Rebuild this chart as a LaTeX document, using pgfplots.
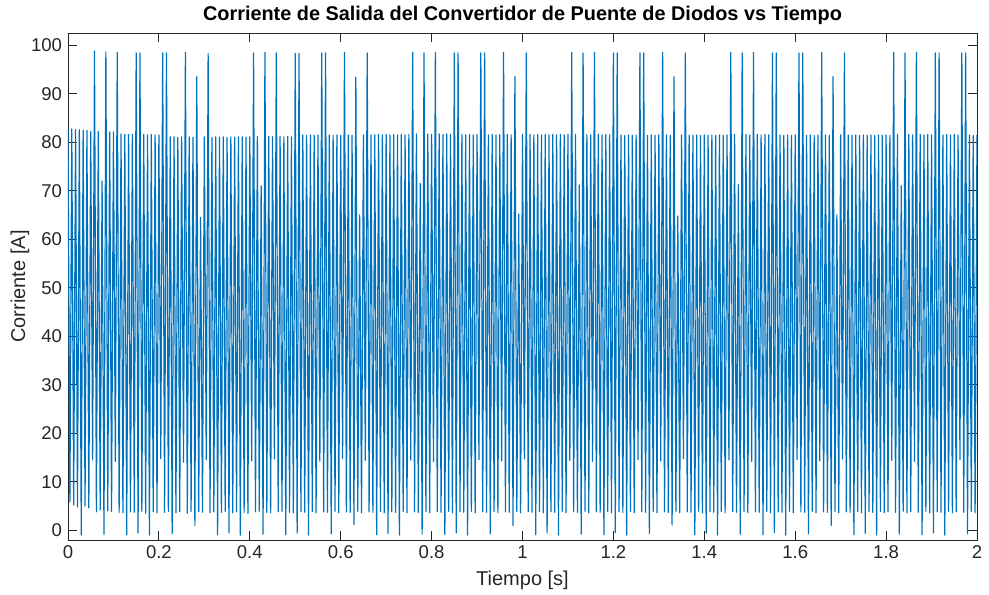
\documentclass[border=0pt]{standalone}
\usepackage{fontspec}
\setmainfont{Liberation Sans}
\usepackage{pgfplots}
\usepackage{pgfplotstable}
\pgfplotsset{compat=1.18}
\definecolor{mblue}{RGB}{0,114,189}
\definecolor{mgray}{RGB}{38,38,38}

% one sample per half cycle (120 Hz ripple): peak, valley, peak, valley, ...
% x = index/240 s
\pgfplotstableread[header=false,row sep=\\]{
82.8\\ 5.8\\ 82.7\\ 5.2\\ 82.6\\ 4.8\\ 82.6\\ -1.0\\ 82.5\\ 5.0\\ 82.4\\ 4.6\\
82.2\\ 14.5\\ 98.8\\ 3.8\\ 82.2\\ 4.2\\ 72.0\\ -0.8\\ 98.6\\ 4.0\\ 82.1\\ 3.9\\
82.1\\ 14.2\\ 98.5\\ 3.7\\ 81.7\\ 3.6\\ 81.6\\ -0.9\\ 81.6\\ 3.8\\ 81.6\\ 3.7\\
98.4\\ -0.6\\ 98.4\\ 3.9\\ 81.6\\ 3.5\\ 81.5\\ -1.0\\ 81.6\\ 3.8\\ 81.5\\ 3.6\\
81.5\\ 14.8\\ 98.4\\ 3.7\\ 98.4\\ 3.9\\ 81.1\\ -0.7\\ 81.1\\ 3.6\\ 81.0\\ 3.8\\
81.1\\ 14.0\\ 98.5\\ 3.5\\ 81.1\\ 3.9\\ 81.0\\ 1.0\\ 93.5\\ 3.8\\ 64.5\\ 3.7\\
81.1\\ 14.6\\ 98.3\\ 3.6\\ 81.0\\ 3.8\\ 81.1\\ -0.9\\ 81.0\\ 3.7\\ 81.1\\ 3.9\\
81.0\\ -0.5\\ 81.1\\ 3.6\\ 81.0\\ 3.8\\ 81.1\\ -1.0\\ 81.1\\ 3.7\\ 81.0\\ 3.5\\
81.1\\ 14.3\\ 98.4\\ 3.8\\ 81.2\\ 3.9\\ 71.0\\ -0.8\\ 98.5\\ 3.7\\ 81.2\\ 3.6\\
81.1\\ 14.7\\ 98.4\\ 3.8\\ 81.2\\ 3.9\\ 81.1\\ -0.9\\ 81.2\\ 3.7\\ 81.1\\ 3.6\\
98.3\\ -0.6\\ 98.3\\ 3.8\\ 81.5\\ 3.7\\ 81.4\\ -1.0\\ 81.5\\ 3.9\\ 81.4\\ 3.6\\
81.5\\ 14.2\\ 98.4\\ 3.8\\ 98.4\\ 3.7\\ 81.5\\ -0.7\\ 81.4\\ 3.9\\ 81.5\\ 3.6\\
81.4\\ 14.8\\ 98.5\\ 3.8\\ 81.5\\ 3.7\\ 81.4\\ 1.2\\ 93.4\\ 3.9\\ 65.0\\ 3.6\\
81.5\\ 14.4\\ 98.4\\ 3.8\\ 81.5\\ 3.7\\ 81.5\\ -0.9\\ 81.6\\ 3.9\\ 81.5\\ 3.6\\
81.6\\ -0.6\\ 81.5\\ 3.8\\ 81.6\\ 3.7\\ 81.5\\ -1.0\\ 81.6\\ 3.9\\ 81.5\\ 3.6\\
81.6\\ 14.5\\ 98.5\\ 3.8\\ 81.7\\ 3.7\\ 71.5\\ -0.8\\ 98.4\\ 3.9\\ 81.7\\ 3.6\\
81.6\\ 14.1\\ 98.5\\ 3.8\\ 81.7\\ 3.7\\ 81.6\\ -0.9\\ 81.7\\ 3.9\\ 81.6\\ 3.6\\
98.4\\ -0.5\\ 98.4\\ 3.8\\ 81.6\\ 3.7\\ 81.5\\ -1.0\\ 81.6\\ 3.9\\ 81.5\\ 3.6\\
81.6\\ 14.6\\ 98.4\\ 3.8\\ 98.4\\ 3.7\\ 81.5\\ -0.7\\ 81.6\\ 3.9\\ 81.5\\ 3.6\\
81.6\\ 14.3\\ 98.5\\ 3.8\\ 81.6\\ 3.7\\ 81.5\\ 1.0\\ 93.5\\ 3.9\\ 65.2\\ 3.6\\
81.6\\ 14.7\\ 98.4\\ 3.8\\ 81.6\\ 3.7\\ 81.5\\ -0.9\\ 81.6\\ 3.9\\ 81.5\\ 3.6\\
81.6\\ -0.6\\ 81.5\\ 3.8\\ 81.6\\ 3.7\\ 81.5\\ -1.0\\ 81.6\\ 3.9\\ 81.5\\ 3.6\\
81.6\\ 14.4\\ 98.5\\ 3.8\\ 81.6\\ 3.7\\ 71.2\\ -0.8\\ 98.4\\ 3.9\\ 81.6\\ 3.6\\
81.5\\ 14.2\\ 98.5\\ 3.8\\ 81.6\\ 3.7\\ 81.5\\ -0.9\\ 81.6\\ 3.9\\ 81.5\\ 3.6\\
98.4\\ -0.5\\ 98.4\\ 3.8\\ 81.5\\ 3.7\\ 81.4\\ -1.0\\ 81.5\\ 3.9\\ 81.4\\ 3.6\\
81.5\\ 14.6\\ 98.4\\ 3.8\\ 98.4\\ 3.7\\ 81.4\\ -0.7\\ 81.5\\ 3.9\\ 81.4\\ 3.6\\
81.5\\ 14.3\\ 98.5\\ 3.8\\ 81.5\\ 3.7\\ 81.4\\ 1.1\\ 93.5\\ 3.9\\ 64.8\\ 3.6\\
81.5\\ 14.8\\ 98.4\\ 3.8\\ 81.5\\ 3.7\\ 81.4\\ -0.9\\ 81.5\\ 3.9\\ 81.4\\ 3.6\\
81.5\\ -0.6\\ 81.4\\ 3.8\\ 81.5\\ 3.7\\ 81.4\\ -1.0\\ 81.5\\ 3.9\\ 81.4\\ 3.6\\
81.5\\ 14.5\\ 98.5\\ 3.8\\ 81.6\\ 3.7\\ 71.3\\ -0.8\\ 98.4\\ 3.9\\ 81.6\\ 3.6\\
81.5\\ 14.2\\ 98.5\\ 3.8\\ 81.6\\ 3.7\\ 81.5\\ -0.9\\ 81.6\\ 3.9\\ 81.5\\ 3.6\\
98.4\\ -0.5\\ 98.4\\ 3.8\\ 81.5\\ 3.7\\ 81.4\\ -1.0\\ 81.5\\ 3.9\\ 81.4\\ 3.6\\
81.5\\ 14.6\\ 98.4\\ 3.8\\ 98.4\\ 3.7\\ 81.4\\ -0.7\\ 81.5\\ 3.9\\ 81.4\\ 3.6\\
81.5\\ 14.3\\ 98.5\\ 3.8\\ 81.5\\ 3.7\\ 81.4\\ 1.0\\ 93.5\\ 3.9\\ 65.0\\ 3.6\\
81.5\\ 14.7\\ 98.4\\ 3.8\\ 81.5\\ 3.7\\ 81.4\\ -0.9\\ 81.5\\ 3.9\\ 81.4\\ 3.6\\
81.5\\ -0.6\\ 81.4\\ 3.8\\ 81.5\\ 3.7\\ 81.4\\ -1.0\\ 81.5\\ 3.9\\ 81.4\\ 3.6\\
81.5\\ 3.8\\ 81.4\\ 14.4\\ 98.5\\ 3.7\\ 81.6\\ -0.8\\ 71.0\\ 3.9\\ 98.4\\ 3.6\\
81.6\\ 3.8\\ 81.5\\ 14.2\\ 98.5\\ 3.7\\ 81.6\\ -0.9\\ 81.5\\ 3.9\\ 81.6\\ 3.6\\
81.5\\ -0.5\\ 98.4\\ 3.8\\ 98.4\\ 3.7\\ 81.5\\ -1.0\\ 81.6\\ 3.9\\ 81.5\\ 3.6\\
81.6\\ 3.8\\ 81.5\\ 14.6\\ 98.4\\ 3.7\\ 98.4\\ -0.7\\ 81.5\\ 3.9\\ 81.4\\ 3.6\\
81.5\\
}\corriente

\begin{document}
\begin{tikzpicture}
\begin{axis}[
  name=ax,
  scale only axis,
  width=681.75pt, height=380.25pt,
  xmin=0, xmax=2, ymin=-2, ymax=102.5,
  xtick={0,0.2,0.4,0.6,0.8,1,1.2,1.4,1.6,1.8,2},
  ytick={0,10,20,30,40,50,60,70,80,90,100},
  tick align=inside, tick pos=both,
  major tick length=6.5pt,
  axis line style={mgray, line width=0.6pt},
  tick style={mgray, line width=0.6pt},
  /pgf/number format/assume math mode=true,
  ticklabel style={font=\fontsize{13.9}{14}\selectfont, text=mgray},
  xticklabel style={yshift=-1pt},
  yticklabel style={xshift=-1pt},
  label style={font=\fontsize{15}{15}\selectfont, text=mgray},
  xlabel={Tiempo [s]},
  ylabel={Corriente [A]},
  xlabel style={at={(axis description cs:0.5,-0.0789)}, anchor=center},
  ylabel style={at={(axis description cs:-0.0528,0.5)}, anchor=center},
  title={Corriente de Salida del Convertidor de Puente de Diodos vs Tiempo},
  every axis title shift=0pt,
  title style={font=\fontsize{14.9}{15}\selectfont\bfseries, at={(axis description cs:0.5,1.034)}, anchor=center},
]
\addplot[mblue, line width=0.9pt, line join=round] table[x expr=\coordindex/240, y index=0] {\corriente};
\end{axis}
\pgfresetboundingbox
\path[use as bounding box] ([shift={(-51pt,-41.25pt)}]ax.south west) rectangle ([shift={(9pt,24.75pt)}]ax.north east);
\end{tikzpicture}
\end{document}
